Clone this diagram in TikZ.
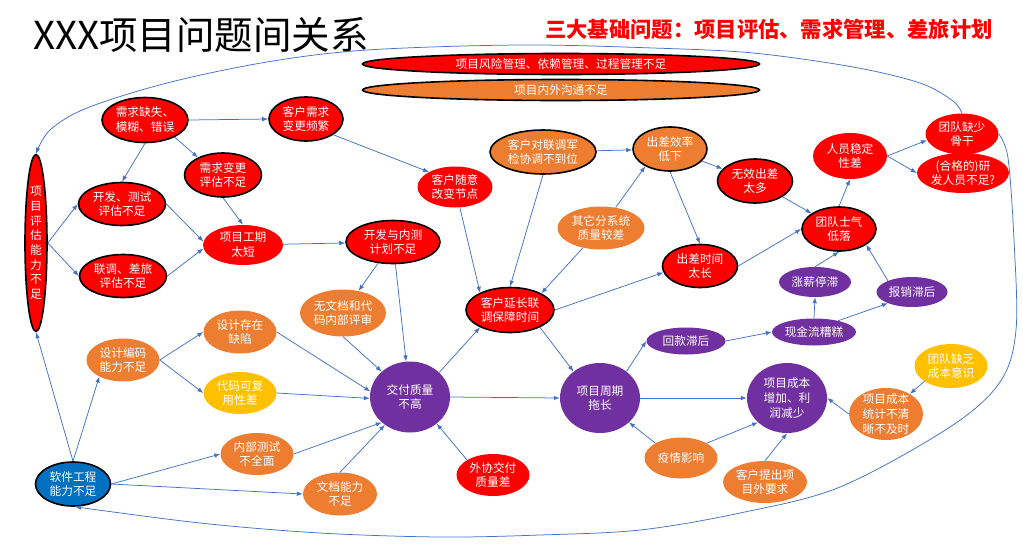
\documentclass[tikz,border=0pt]{standalone}
\usepackage{fontspec}
\setmainfont{Noto Sans CJK SC}
\usetikzlibrary{shapes.geometric,arrows.meta}
\definecolor{cRed}{HTML}{FF0000}
\definecolor{cOrange}{HTML}{ED7D31}
\definecolor{cPurple}{HTML}{7030A0}
\definecolor{cYellow}{HTML}{FFC000}
\definecolor{cBlue}{HTML}{0070C0}
\definecolor{cLine}{HTML}{4472C4}
\begin{document}
\begin{tikzpicture}[x=1pt,y=-1pt,
  nd/.style={ellipse,inner sep=-5pt,text=white,align=center,font=\fontsize{11.7}{14.8}\selectfont},
  sz/.style 2 args={minimum width=#1pt,minimum height=#2pt},
  bd/.style={draw=black,line width=1.6pt},
  rd/.style={nd,fill=cRed},
  rdb/.style={rd,bd},
  og/.style={nd,fill=cOrange},
  ogb/.style={og,bd},
  pp/.style={nd,fill=cPurple},
  yl/.style={nd,fill=cYellow},
  bl/.style={nd,fill=cBlue,bd},
  arr/.style={draw=cLine,line width=0.75pt,-{Latex[length=6pt,width=4.5pt]}}]
\fill[white] (0,0) rectangle (1023,555);
\useasboundingbox (0,0) rectangle (1023,555);

% titles
\node[anchor=west,inner sep=0pt,font=\fontsize{38.5}{42}\selectfont] (title) at (33,35) {XXX项目问题间关系};
\node[inner sep=0pt,text=cRed,font=\fontsize{21.3}{24}\selectfont\bfseries] (sub) at (769,29) {三大基础问题：项目评估、需求管理、差旅计划};

% banners
\node[rdb,sz={397}{21}] (b1) at (561,64) {项目风险管理、依赖管理、过程管理不足};
\node[ogb,sz={397}{21}] (b2) at (561,90) {项目内外沟通不足};

% nodes
\node[rdb,sz={22}{177},font=\fontsize{11.7}{14.7}\selectfont] (xm) at (36,243) {项\\目\\评\\估\\能\\力\\不\\足};
\node[rdb,sz={86}{45}] (xq) at (145,120) {需求缺失、\\模糊、错误};
\node[rdb,sz={74}{44}] (kx) at (306,119) {客户需求\\变更频繁};
\node[rdb,sz={77}{44}] (xb) at (223,175) {需求变更\\评估不足};
\node[rdb,sz={87}{43}] (kc) at (122,204) {开发、测试\\评估不足};
\node[rdb,sz={87}{43}] (ld) at (123,276) {联调、差旅\\评估不足};
\node[rd,sz={80}{40}] (gq) at (243,245) {项目工期\\太短};
\node[rdb,sz={94}{43}] (kn) at (393,242) {开发与内测\\计划不足};
\node[rd,sz={75}{41}] (kys) at (455,187) {客户随意\\改变节点};
\node[ogb,sz={106}{44}] (kd) at (543,152) {客户对联调军\\检协调不到位};
\node[ogb,sz={74}{44}] (cx) at (670,149) {出差效率\\低下};
\node[og,sz={87}{43}] (qt) at (601,228) {其它分系统\\质量较差};
\node[rdb,sz={75}{44}] (wx) at (755,181) {无效出差\\太多};
\node[rd,sz={74}{46}] (ry) at (850,156) {人员稳定\\性差};
\node[rd,sz={73}{41}] (tq) at (962,134) {团队缺少\\骨干};
\node[rd,sz={92}{40}] (hg) at (963,173) {(合格的)研\\发人员不足?};
\node[rdb,sz={74}{44}] (sq) at (839,229) {团队士气\\低落};
\node[rdb,sz={75}{43}] (cc) at (700,266) {出差时间\\太长};
\node[pp,sz={72}{30}] (zx) at (815,282) {涨薪停滞};
\node[pp,sz={71}{30}] (bx) at (912,292) {报销滞后};
\node[rdb,sz={88}{45}] (ky) at (510,310) {客户延长联\\调保障时间};
\node[og,sz={86}{47}] (wd) at (343,313) {无文档和代\\码内部评审};
\node[og,sz={73}{43}] (sj) at (240,332) {设计存在\\缺陷};
\node[og,sz={73}{43}] (sb) at (123,360) {设计编码\\能力不足};
\node[yl,sz={73}{42}] (dm) at (240,393) {代码可复\\用性差};
\node[pp,sz={80}{71}] (jf) at (410,397) {交付质量\\不高};
\node[og,sz={73}{42}] (nb) at (257,454) {内部测试\\不全面};
\node[og,sz={74}{43}] (wn) at (340,494) {文档能力\\不足};
\node[bl,sz={75}{44}] (rj) at (73,484) {软件工程\\能力不足};
\node[rd,sz={73}{42}] (wz) at (493,475) {外协交付\\质量差};
\node[pp,sz={80}{70}] (zq) at (600,398) {项目周期\\拖长};
\node[pp,sz={79}{27}] (hk) at (686,341) {回款滞后};
\node[pp,sz={84}{27}] (xj) at (814,332) {现金流糟糕};
\node[pp,sz={80}{70}] (cb) at (787,398) {项目成本\\增加、利\\润减少};
\node[yl,sz={73}{44}] (td) at (951,366) {团队缺乏\\成本意识};
\node[og,sz={74}{52}] (tj) at (886,414) {项目成本\\统计不清\\晰不及时};
\node[og,sz={73}{41}] (yq) at (681,458) {疫情影响};
\node[og,sz={84}{42}] (kt) at (765,482) {客户提出项\\目外要求};

% connectors
\draw[arr] (xq.east) -- (kx.west);
\draw[arr] (xq.south) -- (kc.north);
\draw[arr] (xq.-30) -- (xb.145);
\draw[arr] (kx.-30) -- (kys.150);
\draw[arr] (xb.south) -- (gq.north);
\draw[arr] (xm.east) -- (kc.west);
\draw[arr] (xm.east) -- (ld.west);
\draw[arr] (kc.east) -- (gq.175);
\draw[arr] (ld.east) -- (gq.185);
\draw[arr] (gq) -- (kn);
\draw[arr] (kn) -- (wd);
\draw[arr] (kn) -- (jf);
\draw[arr] (kys) -- (ky.150);
\draw[arr] (kd.south) -- (ky.north);
\draw[arr] (kd) -- (cx);
\draw[arr] (qt) -- (ky.28);
\draw[arr] (qt) -- (cx.215);
\draw[arr] (cx) -- (wx);
\draw[arr] (cx.south) -- (cc.north);
\draw[arr] (wx) -- (sq);
\draw[arr] (cc.east) -- (sq.west);
\draw[arr] (ky.east) -- (cc.190);
\draw[arr] (sq.north) -- (ry.south);
\draw[arr] (ry.east) -- (tq.190);
\draw[arr] (ry.east) -- (hg.west);
\draw[arr] (zx.north) -- (sq.south);
\draw[arr] (bx.155) -- (sq.-30);
\draw[arr] (xj.north) -- (zx.south);
\draw[arr] (xj.25) -- (bx.205);
\draw[arr] (hk.east) -- (xj.west);
\draw[arr] (zq.45) -- (hk.west);
\draw[arr] (ky.-30) -- (zq.135);
\draw[arr] (jf.40) -- (ky.210);
\draw[arr] (jf.east) -- (zq.west);
\draw[arr] (zq.east) -- (cb.west);
\draw[arr] (yq.150) -- (zq.-40);
\draw[arr] (yq.30) -- (cb.220);
\draw[arr] (kt.north) -- (cb.south);
\draw[arr] (tj.west) -- (cb.east);
\draw[arr] (td.210) -- (tj.40);
\draw[arr] (wz.150) -- (jf.-45);
\draw[arr] (wd.south) -- (jf.138);
\draw[arr] (sj.east) -- (jf.172);
\draw[arr] (dm.east) -- (jf.182);
\draw[arr] (nb.east) -- (jf.222);
\draw[arr] (wn.north) -- (jf.228);
\draw[arr] (sb.east) -- (sj.west);
\draw[arr] (sb.east) -- (dm.west);
\draw[arr] (rj.north) -- (sb.215);
\draw[arr] (rj.north) -- (xm.south);
\draw[arr] (rj.east) -- (nb.west);
\draw[arr] (rj.east) -- (wn.west);

% long curves
\draw[arr] plot[smooth,tension=0.55] coordinates {(tq.north) (953,101) (920,83) (853,67) (753,53) (653,48) (520,45) (367,50) (267,62) (167,83) (87,108) (50,130) (xm.north)};
\draw[arr] plot[smooth,tension=0.55] coordinates {(tq.east) (1008,158) (1014,240) (1016,330) (1000,382) (950,427) (840,487) (740,513) (640,530) (540,535) (440,537) (320,533) (200,523) (rj.-85)};
\end{tikzpicture}
\end{document}
